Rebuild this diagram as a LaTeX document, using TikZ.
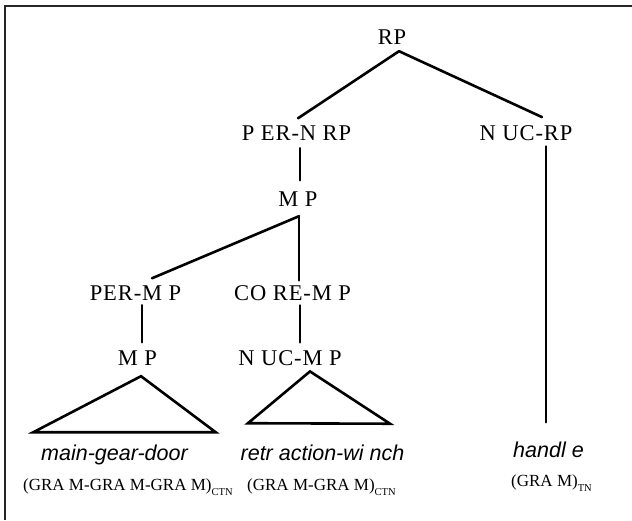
\documentclass[tikz,border=0pt]{standalone}
\usepackage{fontspec}
\setmainfont{Liberation Serif}
\newfontfamily\labfont[LetterSpace=4]{Liberation Serif}
\newfontfamily\gramfont{Liberation Serif}
\newfontfamily\wordfont{Liberation Sans}
\tikzset{
  lab/.style={inner sep=0pt, anchor=base, font=\labfont\fontsize{22.5}{25}\selectfont},
  word/.style={inner sep=0pt, anchor=base, font=\wordfont\itshape\fontsize{21.5}{24}\selectfont},
  gram/.style={inner sep=0pt, anchor=base west, font=\gramfont\fontsize{17}{19}\selectfont},
  edge/.style={line width=2.6pt, line cap=round, line join=miter},
  frame/.style={line width=1.4pt, draw=black!85}
}
\newcommand{\subtxt}[1]{\raisebox{-5pt}{\fontsize{10.5}{11}\selectfont #1}}
\begin{document}
\begin{tikzpicture}[x=1pt,y=-1pt]
\useasboundingbox (0,0) rectangle (632,520);
\fill[white] (0,0) rectangle (632,520);
\draw[frame] (5,520) -- (5,6) -- (632,6);

\node[lab] (rp) at (392,44.6) {RP};
\node[lab] (pernrp) at (296.5,140.5) {P ER-N RP};
\node[lab] (nucrp) at (526,140) {N UC-RP};
\node[lab] (mp1) at (298,206) {M P};
\node[lab] (permp) at (135.5,300.7) {PER-M P};
\node[lab] (coremp) at (292.5,300.7) {CO RE-M P};
\node[lab] (mp2) at (137.5,365) {M P};
\node[lab] (nucmp) at (290,365) {N UC-M P};

\node[word] (w1) at (114.5,460) {main-gear-door};
\node[word] (w2) at (322.5,460) {retr action-wi nch};
\node[word] (w3) at (548.5,457) {handl e};

\node[gram] (g1) at (23,490) {(GRA M-GRA M-GRA M)\subtxt{CTN}};
\node[gram] (g2) at (247,490) {(GRA M-GRA M)\subtxt{CTN}};
\node[gram] (g3) at (511,486) {(GRA M)\subtxt{TN}};

\draw[edge] ([xshift=7pt,yshift=-6.4pt]rp.south) -- ([xshift=1.5pt,yshift=7.3pt]pernrp.north);
\draw[edge] ([xshift=7pt,yshift=-6.4pt]rp.south) -- ([xshift=16pt,yshift=7.8pt]nucrp.north);
\draw[edge] ([xshift=3.5pt,yshift=-7.5pt]pernrp.south) -- ([xshift=2pt,yshift=10.8pt]mp1.north);
\draw[edge] ([xshift=1pt,yshift=-10pt]mp1.south) -- ([xshift=16.5pt,yshift=7.5pt]permp.north);
\draw[edge] ([xshift=1pt,yshift=-10pt]mp1.south) -- ([xshift=6.5pt,yshift=5.2pt]coremp.north);
\draw[edge] ([xshift=6.5pt,yshift=-4.3pt]permp.south) -- ([xshift=4.5pt,yshift=7.8pt]mp2.north);
\draw[edge] ([xshift=7.5pt,yshift=-4.3pt]coremp.south) -- ([xshift=10pt,yshift=7.5pt]nucmp.north);
\draw[edge] ([xshift=20pt,yshift=-6pt]nucrp.south) -- ([xshift=-2.5pt,yshift=19pt]w3.north);

\draw[edge,line cap=butt] ([xshift=3.5pt,yshift=-11pt]mp2.south) -- ([xshift=-7.7pt,yshift=12pt]w1.north west) -- ([xshift=27.7pt,yshift=12pt]w1.north east) -- cycle;
\draw[edge,line cap=butt] ([xshift=20pt,yshift=-6pt]nucmp.south) -- ([xshift=7.5pt,yshift=21pt]w2.north west) -- ([xshift=-14.5pt,yshift=20.5pt]w2.north east) -- cycle;
\end{tikzpicture}
\end{document}
